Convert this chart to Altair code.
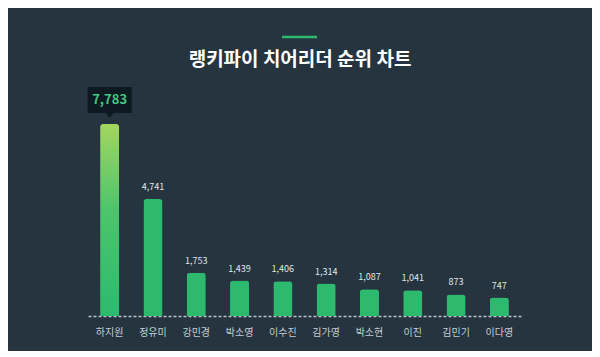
import altair as alt
import pandas as pd

names = ["하지원", "정유미", "강민경", "박소영", "이수진", "김가영", "박소현", "이진", "김민기", "이다영"]
votes = [7783, 4741, 1753, 1439, 1406, 1314, 1087, 1041, 873, 747]
title_text = "랭키파이 치어리더 순위 차트"

df = pd.DataFrame({"name": names, "votes": votes, "rank": list(range(1, len(names) + 1))})
df["label"] = df["votes"].map(lambda v: f"{v:,}")

BG = "#26343f"
GREEN = "#2dba6f"
FONT = "Noto Sans CJK KR"

x = alt.X("name:N", sort=names,
          scale=alt.Scale(paddingInner=0.56, paddingOuter=0.28),
          axis=alt.Axis(title=None, labelAngle=0, ticks=False, domain=True,
                        domainColor="#b8c2c8", domainDash=[3, 2], domainWidth=1.5,
                        labelColor="#c5cdd2", labelFontSize=10, labelFont=FONT,
                        labelPadding=11, grid=False))
y = alt.Y("votes:Q", scale=alt.Scale(domain=[0, 9000], nice=False), axis=None)

base = alt.Chart(df)

bars = base.transform_filter("datum.rank > 1").mark_bar(
    color=GREEN, cornerRadiusTopLeft=3, cornerRadiusTopRight=3
).encode(x=x, y=y)

top_bar = base.transform_filter("datum.rank == 1").mark_bar(
    cornerRadiusTopLeft=3, cornerRadiusTopRight=3,
    color=alt.Gradient(gradient="linear", x1=0, x2=0, y1=0, y2=1,
                       stops=[alt.GradientStop(color="#a3d660", offset=0),
                              alt.GradientStop(color="#4cc46c", offset=0.45),
                              alt.GradientStop(color=GREEN, offset=1)])
).encode(x=x, y=y)

labels = base.transform_filter("datum.rank > 1").mark_text(
    color="#e2e7ea", fontSize=9, font=FONT, dy=-7, baseline="bottom"
).encode(x=x, y=y, text="label:N")

box_path = "M-1,-1.682 L1,-1.682 L1,-0.5 L0.18,-0.5 L0,-0.27 L-0.18,-0.5 L-1,-0.5 Z"
box = base.transform_filter("datum.rank == 1").mark_point(
    shape=box_path, size=1936, filled=True, fill="#0e1a21", opacity=1, strokeWidth=0
).encode(x=x, y=y)

box_text = base.transform_filter("datum.rank == 1").mark_text(
    color="#44c683", fontSize=13, fontWeight="bold", font=FONT, dy=-24, baseline="middle"
).encode(x=x, y=y, text="label:N")

accent = alt.Chart(pd.DataFrame({"a": [0]})).mark_rule(
    color="#2dba6f", strokeWidth=2.5
).encode(x=alt.value(194), x2=alt.value(229), y=alt.value(-57))

title = alt.Chart(pd.DataFrame({"t": [title_text]})).mark_text(
    color="#ffffff", fontSize=19, fontWeight="bold", font=FONT, baseline="middle", align="center"
).encode(x=alt.value(212), y=alt.value(-34), text="t:N")

chart = alt.layer(bars, top_bar, labels, box, box_text, accent, title).properties(
    width=433, height=222, background=BG,
    padding={"left": 80, "top": 86, "right": 71, "bottom": 35},
    autosize=alt.AutoSizeParams(type="none"),
).configure_view(strokeWidth=0)

chart.save("out.html", embed_options={"renderer": "svg", "actions": False})
